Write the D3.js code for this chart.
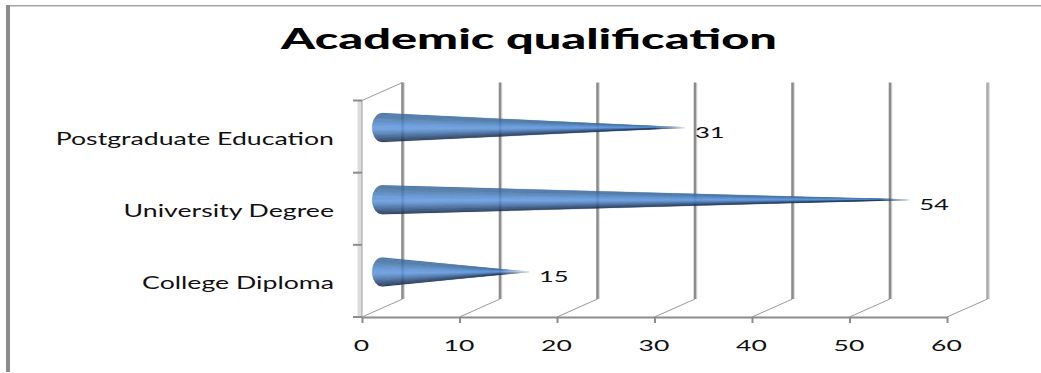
<!DOCTYPE html>
<html>
<head>
<meta charset="utf-8">
<script src="https://cdn.jsdelivr.net/npm/d3@7/dist/d3.min.js"></script>
<style>
html,body{margin:0;padding:0;background:#fff;overflow:hidden}
svg{display:block}
text{font-family:Lato,"Noto Sans",sans-serif;fill:#111}
</style>
</head>
<body>
<svg id="chart" width="1041" height="373"></svg>
<script>
// Chart content
const chartTitle = "Academic qualification";
const categories = ["Postgraduate Education", "University Degree", "College Diploma"];
const counts = [31, 54, 15];
const valueTicks = [0, 10, 20, 30, 40, 50, 60];

// Pseudo-3D floor depth: the back wall sits up and to the right of the front plane
const depth = {dx: 40.5, dy: -18};
const frontTop = 100.5, frontBottom = 317, frontLeft = 362, frontRight = 947;
const coneRadius = 14.5, baseRx = 10, tipFade = 30;
const gridColor = "#8c8c8c";

const svg = d3.select("#chart");
const defs = svg.append("defs");
const x = d3.scaleLinear().domain([0, 60]).range([frontLeft, frontRight]);
const y = d3.scaleBand().domain(categories).range([frontTop, frontBottom]);

// Outer chart frame: only the top and left edges are visible
svg.append("rect").attr("x", 6).attr("y", 5).attr("width", 1035).attr("height", 1.5).attr("fill", "#a6a6a6");
svg.append("rect").attr("x", 6).attr("y", 5).attr("width", 4).attr("height", 367).attr("fill", "#8c8c8c");

// Title
svg.append("text")
  .attr("transform", "translate(529,49) scale(1.74,1)")
  .attr("text-anchor", "middle")
  .attr("font-size", 28).attr("font-weight", 900).style("fill", "#000")
  .text(chartTitle);

// Side wall of the plot box
svg.append("rect")
  .attr("x", frontLeft - 4.5).attr("y", frontTop)
  .attr("width", 4.5).attr("height", frontBottom - frontTop)
  .attr("fill", "#dcdcdc");
svg.append("line")
  .attr("x1", frontLeft).attr("x2", frontLeft)
  .attr("y1", frontTop).attr("y2", frontBottom)
  .attr("stroke", "#a0a0a0").attr("stroke-width", 1);
svg.append("line")
  .attr("x1", frontLeft).attr("x2", frontLeft + depth.dx)
  .attr("y1", frontTop).attr("y2", frontTop + depth.dy)
  .attr("stroke", "#9a9a9a").attr("stroke-width", 1);

// Back-wall gridlines with their floor diagonals
const grid = svg.append("g");
valueTicks.forEach((v, i) => {
  const gx = x(v) + depth.dx;
  const last = i === valueTicks.length - 1;
  grid.append("line")
    .attr("x1", gx + 1.8).attr("x2", gx + 1.8)
    .attr("y1", frontTop + depth.dy).attr("y2", frontBottom + depth.dy)
    .attr("stroke", "#d8d8d8").attr("stroke-width", 1);
  grid.append("line")
    .attr("x1", gx).attr("x2", gx)
    .attr("y1", frontTop + depth.dy).attr("y2", frontBottom + depth.dy)
    .attr("stroke", last ? "#ababab" : gridColor).attr("stroke-width", 2.6);
  grid.append("line")
    .attr("x1", x(v)).attr("x2", gx)
    .attr("y1", frontBottom).attr("y2", frontBottom + depth.dy)
    .attr("stroke", "#9a9a9a").attr("stroke-width", 1);
});

// Category tick marks along the band edges
const edges = categories.map(c => y(c)).concat(frontBottom);
svg.append("g").selectAll("line").data(edges).join("line")
  .attr("x1", frontLeft - 9).attr("x2", frontLeft)
  .attr("y1", d => d).attr("y2", d => d)
  .attr("stroke", gridColor).attr("stroke-width", 2);

// Value axis along the floor
const xAxis = svg.append("g")
  .attr("transform", `translate(0,${frontBottom})`)
  .call(d3.axisBottom(x).tickValues(valueTicks).tickSize(6).tickSizeOuter(0).tickPadding(0));
xAxis.select(".domain").attr("stroke", gridColor).attr("stroke-width", 2);
xAxis.selectAll(".tick line").attr("stroke", gridColor).attr("stroke-width", 2);
xAxis.selectAll(".tick text")
  .attr("y", 0).attr("dy", 0)
  .attr("transform", "translate(-1,34) scale(1.66,1)")
  .attr("font-size", 16).attr("text-anchor", "middle");

// Category labels, right aligned against the side wall
const yAxis = svg.append("g")
  .attr("transform", `translate(334,0)`)
  .call(d3.axisLeft(y).tickSize(0).tickPadding(0));
yAxis.select(".domain").remove();
yAxis.selectAll(".tick text")
  .attr("x", 0).attr("dy", 0)
  .attr("transform", "translate(0,8) scale(1.57,1)")
  .attr("font-size", 17).attr("text-anchor", "end");

// Cones: thin bands converging on the tip, shaded dark-light-dark across the radius
const shade = d3.scaleLinear()
  .domain([-1, -0.72, -0.2, 0.1, 0.45, 0.8, 1])
  .range(["#3f6ca6", "#44719f", "#5b90d4", "#659ae0", "#4a76ae", "#2b4a75", "#1b3050"])
  .interpolate(d3.interpolateRgb);
const bandCount = 40;
const bandEdges = d3.range(bandCount + 1).map(i => -1 + 2 * i / bandCount);

const cones = svg.append("g").selectAll("g").data(categories).join("g");
cones.each(function(cat, i) {
  const cx = x(0) + depth.dx / 2;
  const cy = y(cat) + y.bandwidth() / 2 + depth.dy / 2;
  const tip = x(counts[i]) + depth.dx / 2;

  // The needle point thins out to nothing over its last few pixels
  const gradId = `tip-fade-${i}`;
  const grad = defs.append("linearGradient").attr("id", gradId)
    .attr("gradientUnits", "userSpaceOnUse")
    .attr("x1", tip - tipFade).attr("x2", tip).attr("y1", 0).attr("y2", 0);
  grad.append("stop").attr("offset", 0).attr("stop-color", "#fff");
  grad.append("stop").attr("offset", 1).attr("stop-color", "#fff").attr("stop-opacity", 0.15);
  defs.append("mask").attr("id", `tip-mask-${i}`)
    .attr("maskUnits", "userSpaceOnUse")
    .attr("x", 0).attr("y", 0).attr("width", 1041).attr("height", 373)
    .append("rect").attr("width", 1041).attr("height", 373).attr("fill", `url(#${gradId})`);

  d3.select(this).attr("mask", `url(#tip-mask-${i})`)
    .selectAll("path").data(d3.pairs(bandEdges)).join("path")
    .attr("d", ([a, b]) => {
      const ax = cx - baseRx * Math.sqrt(Math.max(0, 1 - a * a));
      const bx = cx - baseRx * Math.sqrt(Math.max(0, 1 - b * b));
      return d3.line()([[ax, cy + a * coneRadius], [tip, cy], [bx, cy + b * coneRadius]]) + "Z";
    })
    .attr("fill", ([a, b]) => shade((a + b) / 2))
    .attr("stroke", ([a, b]) => shade((a + b) / 2))
    .attr("stroke-width", 0.2);
});

// Value labels just past each tip
svg.append("g").selectAll("text").data(categories).join("text")
  .attr("transform", (c, i) =>
    `translate(${x(counts[i]) + depth.dx / 2 + 10.5},${y(c) + y.bandwidth() / 2 + 1.5}) scale(1.6,1)`)
  .attr("font-size", 16)
  .text((c, i) => counts[i]);
</script>
</body>
</html>
